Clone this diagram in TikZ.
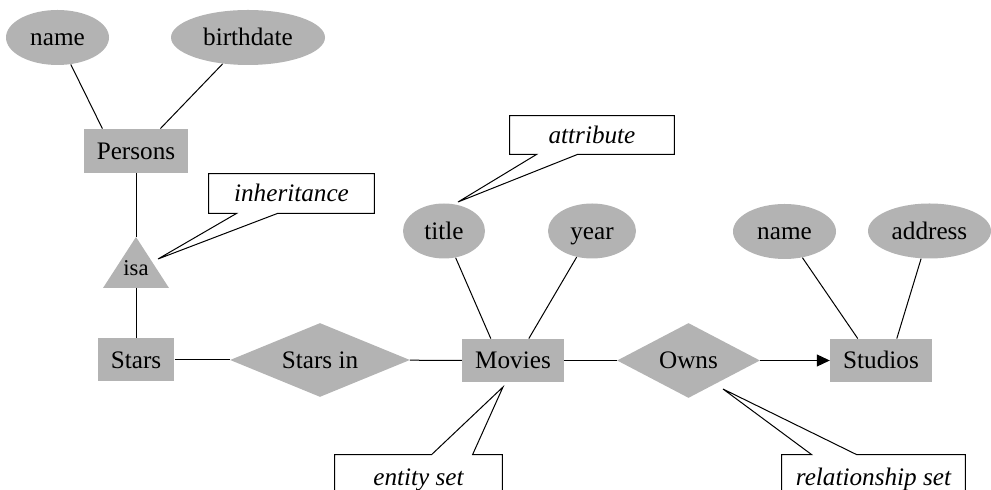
\documentclass[tikz,border=0pt]{standalone}
\usepackage{fontspec}
\setmainfont{Liberation Serif}
\usetikzlibrary{shapes.geometric,arrows.meta}

\definecolor{ergray}{RGB}{179,179,179}
\tikzset{
  every node/.style={font=\fontsize{12.6}{15}\selectfont,text height=8.3pt,text depth=0pt},
  entity/.style={rectangle,fill=ergray,inner xsep=6.5pt,inner ysep=0pt,minimum height=21.5pt},
  attr/.style={ellipse,fill=ergray,inner sep=0pt,minimum height=27.5pt},
  rel/.style={diamond,fill=ergray,inner sep=0pt,minimum height=37pt},
  note/.style={inner sep=0pt,font=\fontsize{12.6}{15}\selectfont\itshape},
  link/.style={line width=0.5pt},
  box/.style={line width=0.5pt},
}

\begin{document}
\begin{tikzpicture}[x=0.5pt,y=-0.5pt]
  \useasboundingbox (0,0) rectangle (991,490);
  \clip (0,0) rectangle (991,490);

  % Persons and its attributes
  \node[attr,minimum width=51.5pt] (name1) at (57.5,37.5) {name};
  \node[attr,minimum width=77pt] (bdate) at (248,37.5) {birthdate};
  \node[entity,minimum height=22pt] (pers) at (136,151) {Persons};

  % isa triangle
  \coordinate (isatop) at (136,237);
  \coordinate (isabase) at (136,288);
  \fill[ergray] (isatop) -- (169,288) -- (103,288) -- cycle;
  \node[font=\fontsize{11.3}{13}\selectfont,text height=5pt] (isa) at (136,271) {isa};

  % entity sets and relationships
  \node[entity] (stars) at (136,360) {Stars};
  \node[rel,shape aspect=2.43,minimum width=90pt] (starsin) at (320,360) {Stars in};
  \node[entity] (movies) at (513,360.5) {Movies};
  \node[rel,shape aspect=1.9,minimum width=71.5pt,minimum height=37.5pt] (owns) at (688.5,360.5) {Owns};
  \node[entity] (studios) at (881,360.5) {Studios};

  % attributes of Movies and Studios
  \node[attr,minimum width=41pt] (title) at (444,231) {title};
  \node[attr,minimum width=44pt] (year) at (592,231) {year};
  \node[attr,minimum width=51.5pt] (name2) at (784.5,231.5) {name};
  \node[attr,minimum width=61.5pt] (addr) at (929.5,231) {address};

  % connectors
  \draw[link] (name1) -- ([xshift=9.5pt]pers.north west);
  \draw[link] (bdate) -- ([xshift=38.5pt]pers.north west);
  \draw[link] (pers) -- (isatop);
  \draw[link] (isabase) -- (stars);
  \draw[link] (stars) -- (starsin);
  \draw[link] (starsin) -- (movies);
  \draw[link] (title) -- ([xshift=14.5pt]movies.north west);
  \draw[link] (year) -- ([xshift=33.5pt]movies.north west);
  \draw[link] (movies) -- (owns);
  \draw[link,-{Triangle[length=6.5pt,width=6pt]}] (owns) -- (studios);
  \draw[link] (name2) -- ([xshift=14pt]studios.north west);
  \draw[link] (addr) -- ([xshift=33.5pt]studios.north west);

  % callouts
  \coordinate (inhtip) at (158,259);
  \node[note,minimum width=82.5pt,minimum height=19.5pt] (inh) at (291.5,193.5) {inheritance};
  \draw[box] (inh.north west) -- (inh.north east) -- (inh.south east)
    -- ([xshift=34.5pt]inh.south west) -- (inhtip)
    -- ([xshift=14pt]inh.south west) -- (inh.south west) -- cycle;

  \coordinate (atttip) at (458,202);
  \node[note,minimum width=82pt,minimum height=19pt] (att) at (592,135) {attribute};
  \draw[box] (att.north west) -- (att.north east) -- (att.south east)
    -- ([xshift=34pt]att.south west) -- (atttip)
    -- ([xshift=13.5pt]att.south west) -- (att.south west) -- cycle;

  \coordinate (enttip) at (503,387);
  \node[note,minimum width=83.5pt,minimum height=22.5pt] (ent) at (418.5,477.5) {entity set};
  \draw[box] (ent.south west) -- (ent.north west)
    -- ([xshift=48.5pt]ent.north west) -- (enttip)
    -- ([xshift=69pt]ent.north west) -- (ent.north east) -- (ent.south east);

  \coordinate (reltip) at (723,389);
  \node[note,minimum width=91.5pt,minimum height=22.5pt] (rel) at (873.5,477.5) {relationship set};
  \draw[box] (rel.south west) -- (rel.north west)
    -- ([xshift=15pt]rel.north west) -- (reltip)
    -- ([xshift=37.5pt]rel.north west) -- (rel.north east) -- (rel.south east);
\end{tikzpicture}
\end{document}
